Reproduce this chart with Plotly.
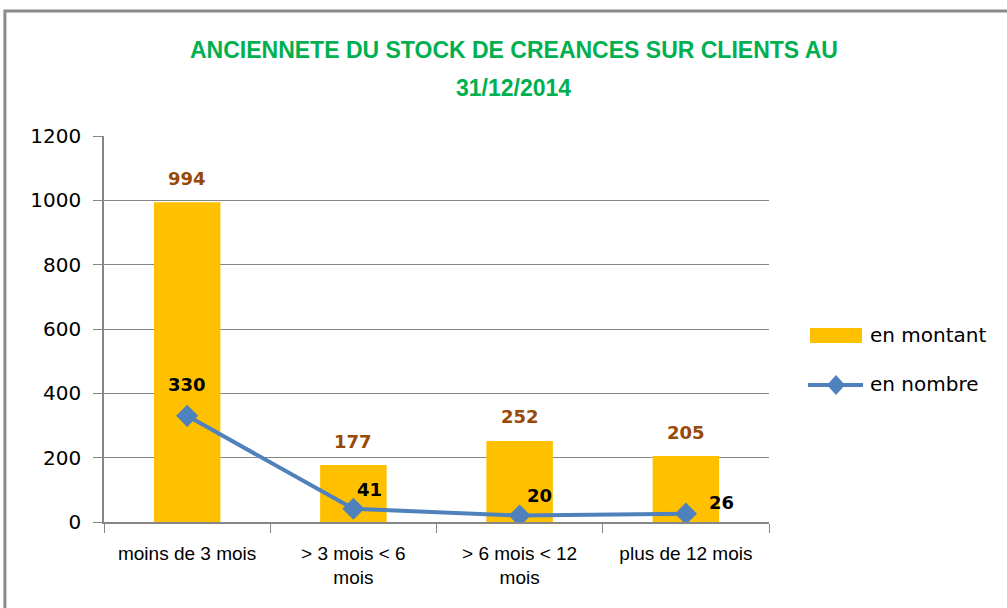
import plotly.graph_objects as go

# Ageing buckets of the receivables stock
categories = ["moins de 3 mois", "> 3 mois < 6<br>mois", "> 6 mois < 12<br>mois", "plus de 12 mois"]
en_montant = [994, 177, 252, 205]
en_nombre = [330, 41, 20, 26]
y_ticks = [0, 200, 400, 600, 800, 1000, 1200]

# label offsets (pixels) for the "en nombre" data labels
nombre_label_dx = [0, 16, 20, 36]
nombre_label_dy = [31, 19, 20, 11]

AXIS_GREY = "#868686"
BAR_COLOR = "#FFC000"
LINE_COLOR = "#4F81BD"
WIDE_FONT = "DejaVu Sans"
NARROW_FONT = "Liberation Sans Narrow, Liberation Sans, sans-serif"

fig = go.Figure()
fig.add_trace(go.Bar(
    x=categories, y=en_montant, name="en montant",
    marker=dict(color=BAR_COLOR, line=dict(width=0)),
))
fig.add_trace(go.Scatter(
    x=categories, y=en_nombre, name="en nombre", mode="lines+markers",
    line=dict(color=LINE_COLOR, width=4),
    marker=dict(symbol="diamond", size=17, color=LINE_COLOR),
))

annotations = []
for cat, v in zip(categories, en_montant):
    annotations.append(dict(
        x=cat, y=v, xref="x", yref="y", text=f"<b>{v}</b>", showarrow=False,
        yshift=24, font=dict(family=WIDE_FONT, size=18, color="#984807"),
    ))
for cat, v, dx, dy in zip(categories, en_nombre, nombre_label_dx, nombre_label_dy):
    annotations.append(dict(
        x=cat, y=v, xref="x", yref="y", text=f"<b>{v}</b>", showarrow=False,
        xshift=dx, yshift=dy, font=dict(family=WIDE_FONT, size=18, color="#000000"),
    ))

# Two-line title
title_font = dict(family=NARROW_FONT, size=23, color="#00B050")
for text, ypos in [("<b>ANCIENNETE DU STOCK DE CREANCES SUR CLIENTS AU</b>", 1.2228),
                   ("<b>31/12/2014</b>", 1.1244)]:
    annotations.append(dict(
        xref="paper", yref="paper", x=0.6165, y=ypos, yanchor="middle",
        text=text, showarrow=False, font=title_font,
    ))

# Legend, drawn to the right of the plot area
legend_font = dict(family=WIDE_FONT, size=20, color="#000000")
annotations.append(dict(xref="paper", yref="paper", x=1.1489, y=0.4845,
                        xanchor="left", yanchor="middle", showarrow=False,
                        text="en montant", font=legend_font))
annotations.append(dict(xref="paper", yref="paper", x=1.1489, y=0.3575,
                        xanchor="left", yanchor="middle", showarrow=False,
                        text="en nombre", font=legend_font))

dx_d, dy_d = 9 / 665, 10 / 386
cx, cy = 1.1008, 0.3549
diamond_path = (f"M {cx - dx_d} {cy} L {cx} {cy + dy_d} "
                f"L {cx + dx_d} {cy} L {cx} {cy - dy_d} Z")

shapes = [
    # chart border
    dict(type="rect", xref="paper", yref="paper",
         x0=-0.149, x1=1.6, y0=-0.5, y1=1.3238,
         line=dict(color="#8A8A8A", width=3), fillcolor="rgba(0,0,0,0)",
         layer="below"),
    # legend swatches
    dict(type="rect", xref="paper", yref="paper",
         x0=1.0617, x1=1.1398, y0=0.4637, y1=0.5026,
         line=dict(width=0), fillcolor=BAR_COLOR),
    dict(type="line", xref="paper", yref="paper",
         x0=1.0586, x1=1.1414, y0=cy, y1=cy,
         line=dict(color=LINE_COLOR, width=4)),
    dict(type="path", xref="paper", yref="paper", path=diamond_path,
         line=dict(width=0), fillcolor=LINE_COLOR),
]

fig.update_layout(
    width=1007, height=608,
    margin=dict(l=104, r=238, t=136, b=86),
    paper_bgcolor="white", plot_bgcolor="white",
    bargap=0.6,
    showlegend=False,
    annotations=annotations,
    shapes=shapes,
)
fig.update_xaxes(
    showline=True, linecolor=AXIS_GREY, linewidth=1.5,
    ticks="outside", tickson="boundaries", ticklen=9, tickcolor=AXIS_GREY,
    ticklabelstandoff=13,
    tickfont=dict(family=NARROW_FONT, size=19, color="#000000"),
    showgrid=False,
)
fig.update_yaxes(
    range=[0, 1200], tickvals=y_ticks,
    showline=True, linecolor=AXIS_GREY, linewidth=1.5,
    ticks="outside", ticklen=9, tickcolor=AXIS_GREY,
    ticklabelstandoff=8,
    showgrid=True, gridcolor=AXIS_GREY, gridwidth=1,
    zeroline=False,
    tickfont=dict(family=WIDE_FONT, size=20, color="#000000"),
)

fig.write_html("out.html")
